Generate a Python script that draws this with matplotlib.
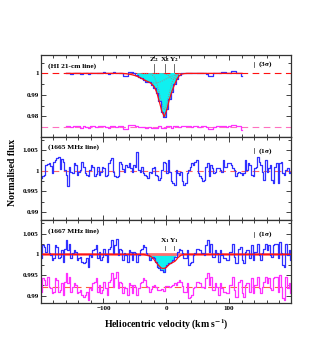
import numpy as np
import matplotlib.pyplot as plt
from matplotlib.ticker import MultipleLocator, FuncFormatter

plt.rcParams['font.family'] = ['Liberation Serif', 'DejaVu Serif']
plt.rcParams['font.weight'] = 'bold'
plt.rcParams['mathtext.fontset'] = 'stix'
plt.rcParams['mathtext.default'] = 'bf'

# ---- HI 21-cm line: channel velocities (km/s), flux deviations in units of 1e-4
hi_start, hi_step = -159, 4
hi_dev = [3, 3, -1, 3, 4, 4, -2, 3, 2, -3, 4, 3, 0, 4, 3, 5, 2, -3, 3, 5,
          2, 4, 3, -12, -12, 5, 6, 0, -8, -16, -22, -30, -38, -42, -52, -66,
          -92, -128, -180, -204, -166, -118, -86, -50, -24, -8, 3, 2, 4, 3,
          0, 4, 3, 2, 4, 3, -1, -10, -10, 2, 3, 3, 6, 6, 2, 3, 12, 10, 3, 3, -12]
# gaussian components of the HI fit, channels 23..47
hi_fit_first = 23
hi_z2 = [-1, -2, -4, -6, -9, -13, -18, -24, -30, -36, -41, -44, -45, -44, -41,
         -36, -30, -24, -18, -13, -9, -6, -4, -2, -1]
hi_x2 = [0, 0, 0, 0, 0, 0, 0, 0, 0, 0, 0, -5, -17, -45, -90, -140, -170, -140,
         -90, -45, -17, -5, 0, 0, 0]
hi_y2 = [0, 0, 0, 0, 0, 0, 0, 0, 0, 0, 0, 0, 0, 0, 0, 0, -1, -5, -14, -26, -28,
         -16, -6, -1, 0]
hi_marks = {'Z$_2$': -19, 'X$_2$': -2, 'Y$_2$': 13}

# ---- OH 1665 / 1667 MHz: channel velocities, deviations in units of 1e-4
oh_start, oh_step = -198.75, 2.5
oh1665_dev = [-18, -12, -10, 14, 16, 18, 12, -6, 20, 26, 30, 34, 4, 28, 22, 2, -10, -38, 8, -4,
              -6, 18, 14, -10, -4, 2, 20, 8, -6, -10, -14, 2, 14, 10, -12, -8, 8, -10, -4, 10,
              6, -14, -10, 18, 26, 30, -4, -14, -16, -14, 20, 16, 4, -2, 14, 10, 18, 6, -2, 14,
              10, 46, 2, -2, 10, -6, -10, -14, -18, -2, -6, 6, 10, -10, -14, -22, -18, 2, 22, 18,
              -6, 26, -2, -26, -30, -34, 2, -6, -10, -2, -26, -34, -30, -6, 2, 10, 18, 14, 22, 26,
              -6, -14, -18, -26, -22, 10, 18, -14, 14, 6, -6, -2, 6, 6, 2, -2, 26, 10, 10, 18,
              18, 14, 6, 2, -14, -6, -2, -6, -10, -6, 26, 2, 18, 14, -10, -14, 6, 10, 34, 22,
              14, -2, -22, 26, -2, 6, 14, -22, -30, 10, 18, -30, 18, 22, -6, -10, 2, 6, -6, -2]
oh1667_dev = [-10, 22, 18, 6, 26, 2, -2, -14, -10, 22, 18, -10, -6, 10, -18, 14, 34, 10, 26, -10,
              2, 10, 6, -14, -10, -6, -18, -22, -18, -10, -30, -2, -6, 10, 14, 22, -10, 6, -14, -6,
              14, -2, -18, 14, 18, 34, 2, 22, 38, -2, 14, 10, -14, 2, -2, -18, 10, 6, -14, 6,
              2, -18, -2, 10, 14, 22, 18, 2, -2, -14, -10, -6, -8, -18, -30, -34, -38, -38, -42, -30,
              -26, -22, -22, -18, -14, -6, -6, 6, 14, 10, 2, -10, -10, 10, -26, -22, -18, -2, 2, 14,
              14, 10, 2, 2, -2, 22, 34, 6, 26, -6, -6, 10, 2, -18, 10, -2, -10, -10, -14, -14,
              6, 6, 26, -6, -22, -22, 14, 18, -14, -22, 6, 10, 10, -10, 22, -14, 6, 6, 26, -2,
              -14, 2, 14, 26, 10, 22, -2, -6, 22, 26, 26, -10, 30, 2, -26, -30, 26, -2, 10, -14]
oh1667_fit_first = 66
oh1667_fit = [-1, -2, -3, -4, -6, -9, -14, -19, -24, -28, -32, -34, -34, -33, -30, -26,
              -23, -21, -19, -17, -13, -8, -5, -2, -1, 0, 0]
oh_marks = {'X$_1$': -2, 'Y$_1$': 13}

BLUE = '#3030ff'
MAG = '#ff30ff'
RED = '#ff1010'
CYAN = '#10f0f0'

hi_v = hi_start + hi_step * np.arange(len(hi_dev))
hi_f = 1 + np.array(hi_dev) * 1e-4
hi_comp = np.array([hi_z2, hi_x2, hi_y2]) * 1e-4
fit_v = hi_v[hi_fit_first:hi_fit_first + len(hi_z2)]
hi_fit = np.zeros(len(hi_dev))
hi_fit[hi_fit_first:hi_fit_first + len(hi_z2)] = hi_comp.sum(axis=0)
hi_res = hi_f - (1 + hi_fit) + 0.975

oh_v = oh_start + oh_step * np.arange(len(oh1665_dev))
f1665 = 1 + np.array(oh1665_dev) * 1e-4
f1667 = 1 + np.array(oh1667_dev) * 1e-4
fit1667 = np.zeros(len(oh1667_dev))
fit1667[oh1667_fit_first:oh1667_fit_first + len(oh1667_fit)] = np.array(oh1667_fit) * 1e-4
res1667 = f1667 - (1 + fit1667) + 0.992

fig = plt.figure(figsize=(3.17, 3.37), dpi=100)
ax1 = fig.add_axes([0.1303, 0.5935, 0.788, 0.2442])
ax2 = fig.add_axes([0.1303, 0.3472, 0.788, 0.2463])
ax3 = fig.add_axes([0.1303, 0.1009, 0.788, 0.2463])

fmt = FuncFormatter(lambda x, p: '%g' % round(x, 4))
for ax in (ax1, ax2, ax3):
    ax.set_xlim(-199, 199)
    ax.xaxis.set_major_locator(MultipleLocator(100))
    ax.xaxis.set_minor_locator(MultipleLocator(20))
    ax.tick_params(which='both', direction='in', top=True, right=True,
                   labelsize=5, width=0.6, color='#222222', pad=2)
    ax.tick_params(which='major', length=3.5)
    ax.tick_params(which='minor', length=2)
    ax.yaxis.set_major_formatter(fmt)
    for s in ax.spines.values():
        s.set_linewidth(0.9)
        s.set_color('#333333')
ax1.tick_params(labelbottom=False)
ax2.tick_params(labelbottom=False)

# --- top panel: HI
ax1.set_ylim(0.9704, 1.0087)
ax1.yaxis.set_major_locator(MultipleLocator(0.01))
ax1.yaxis.set_minor_locator(MultipleLocator(0.005))
ab = (hi_v >= -62) & (hi_v <= 22)
ax1.fill_between(hi_v, hi_f, 1, where=ab & (hi_f < 1), step='mid', color=CYAN, lw=0)
ax1.axhline(1, color=RED, lw=0.8, ls=(0, (6, 4)))
ax1.axhline(0.975, color='#ff70c0', lw=0.8, ls=(0, (6, 4)))
for comp in hi_comp:
    ax1.plot(fit_v, 1 + comp, color='#c07070', lw=0.6, ls=':')
ax1.step(hi_v, hi_f, where='mid', color=BLUE, lw=0.9)
ax1.plot(hi_v, 1 + hi_fit, color=RED, lw=0.9)
ax1.step(hi_v, hi_res, where='mid', color=MAG, lw=0.9)
for lab, v in hi_marks.items():
    ax1.plot([v, v], [1.0007, 1.0044], color='#555555', lw=0.6)
    ax1.text(v, 1.0046, lab, ha='center', va='bottom', fontsize=5.4)
ax1.text(0.027, 0.866, '(HI 21-cm line)', transform=ax1.transAxes, fontsize=5.3, va='center')
ax1.plot([140, 140], [1.0031, 1.0051], color='#555555', lw=0.6)
ax1.text(146, 1.0041, r'(3$\sigma$)', fontsize=5.3, va='center')

# --- middle panel: 1665 MHz
ax2.set_ylim(0.98803, 1.00818)
ax2.yaxis.set_major_locator(MultipleLocator(0.005))
ax2.yaxis.set_minor_locator(MultipleLocator(0.0025))
ax2.axhline(1, color='#ff6060', lw=0.8, ls=(0, (6, 4)))
ax2.step(oh_v, f1665, where='mid', color=BLUE, lw=0.9)
ax2.text(0.027, 0.88, '(1665 MHz line)', transform=ax2.transAxes, fontsize=5.3, va='center')
ax2.plot([140, 140], [1.0042, 1.0054], color='#555555', lw=0.6)
ax2.text(146, 1.0048, r'(1$\sigma$)', fontsize=5.3, va='center')

# --- bottom panel: 1667 MHz
ax3.set_ylim(0.98824, 1.00829)
ax3.yaxis.set_major_locator(MultipleLocator(0.005))
ax3.yaxis.set_minor_locator(MultipleLocator(0.0025))
ab3 = (oh_v >= -27) & (oh_v <= 24)
ax3.fill_between(oh_v, f1667, 1, where=ab3 & (f1667 < 1), step='mid', color=CYAN, lw=0)
ax3.axhline(1, color='#ff7070', lw=2.0)
ax3.axhline(0.992, color='#ff6040', lw=0.8, ls=(0, (6, 4)))
ax3.step(oh_v, f1667, where='mid', color=BLUE, lw=0.9)
ax3.plot(oh_v, 1 + fit1667, color=RED, lw=0.9)
ax3.step(oh_v, res1667, where='mid', color=MAG, lw=0.9)
for lab, v in oh_marks.items():
    ax3.plot([v, v], [1.001, 1.0021], color='#555555', lw=0.6)
    ax3.text(v, 1.0022, lab, ha='center', va='bottom', fontsize=5.4)
ax3.text(0.027, 0.871, '(1667 MHz line)', transform=ax3.transAxes, fontsize=5.3, va='center')
ax3.plot([140, 140], [1.0043, 1.0055], color='#555555', lw=0.6)
ax3.text(146, 1.0049, r'(1$\sigma$)', fontsize=5.3, va='center')

fig.text(0.041, 0.487, 'Normalised flux', rotation=90, ha='center', va='center', fontsize=7)
fig.text(0.524, 0.036, 'Heliocentric velocity (km s$^{-1}$)', ha='center', va='center', fontsize=7)

fig.savefig('out.png', dpi=100)
